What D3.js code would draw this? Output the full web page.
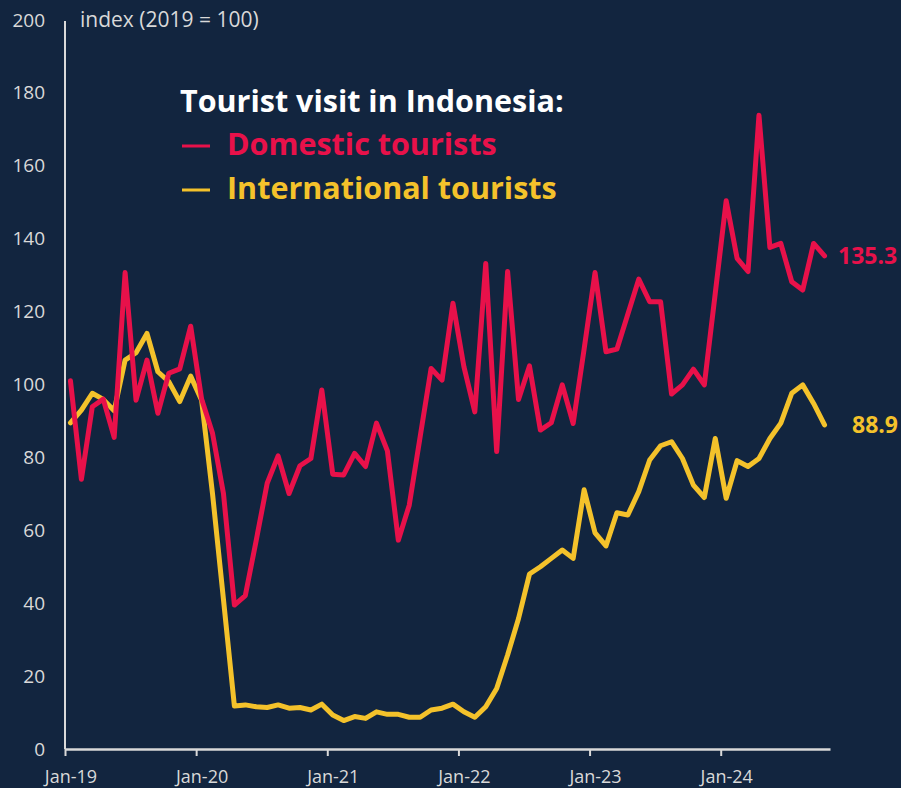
<!DOCTYPE html>
<html>
<head>
<meta charset="utf-8">
<script src="https://cdn.jsdelivr.net/npm/d3@7"></script>
<style>
  html, body { margin: 0; padding: 0; background: #12253f; }
  svg { display: block; }
  text { font-family: "Open Sans", Lato, sans-serif; }
</style>
</head>
<body>
<div id="chart"></div>
<script>
// Monthly index of tourist visits, Jan 2019 – Oct 2024 (2019 = 100)
const startMonth = new Date(2019, 0, 1);
const months = d3.timeMonth.range(startMonth, new Date(2024, 10, 1));

const domestic = [
  101.0, 74.0, 93.9, 96.0, 85.5, 130.7, 95.7, 106.7, 92.1, 103.1, 104.3, 116.0,
  96.0, 86.6, 70.1, 39.5, 42.1, 57.3, 72.9, 80.4, 70.1, 77.7, 79.7, 98.5,
  75.4, 75.2, 81.1, 77.5, 89.4, 81.8, 57.3, 66.9, 85.7, 104.4, 101.2, 122.3,
  104.9, 92.5, 133.2, 81.6, 131.0, 95.9, 105.1, 87.5, 89.5, 99.9, 89.3, 109.7,
  130.7, 109.0, 109.7, 119.3, 128.9, 122.7, 122.7, 97.4, 99.9, 104.2, 99.9, 125.0,
  150.4, 134.6, 131.0, 173.9, 137.6, 138.7, 128.2, 125.9, 138.7, 135.3
];

const international = [
  89.5, 93.0, 97.6, 95.9, 92.8, 106.7, 108.7, 114.0, 103.5, 100.8, 95.3, 102.3,
  95.7, 70.0, 41.0, 11.8, 12.1, 11.6, 11.4, 12.1, 11.2, 11.4, 10.7, 12.3,
  9.3, 7.8, 8.9, 8.4, 10.2, 9.5, 9.5, 8.7, 8.7, 10.7, 11.2, 12.3,
  10.2, 8.7, 11.6, 16.6, 25.8, 35.8, 48.0, 50.0, 52.3, 54.6, 52.3, 71.1,
  59.3, 55.7, 64.8, 64.2, 70.6, 79.3, 83.2, 84.3, 79.7, 72.4, 69.0, 85.2,
  68.8, 79.1, 77.5, 79.7, 85.2, 89.4, 97.6, 99.9, 94.8, 88.9
];

const yTicks = [0, 20, 40, 60, 80, 100, 120, 140, 160, 180, 200];
const xTickLabels = ["Jan-19", "Jan-20", "Jan-21", "Jan-22", "Jan-23", "Jan-24"];

const seriesInfo = [
  { name: "Domestic tourists", values: domestic, color: "#e8114a" },
  { name: "International tourists", values: international, color: "#f4c22b" }
];

const W = 901, H = 788;
const plotLeft = 65, plotRight = 830, plotTop = 20, plotBottom = 749;

const svg = d3.select("#chart").append("svg")
  .attr("width", W).attr("height", H);

svg.append("rect").attr("width", W).attr("height", H).attr("fill", "#12253f");

// Each month occupies one slot; points sit at the slot centre
const x = d3.scaleLinear().domain([0, months.length]).range([plotLeft, plotRight]);
const y = d3.scaleLinear().domain([0, 200]).range([plotBottom, plotTop]);
const halfSlot = (x(1) - x(0)) / 2;

const axisColor = "#d9d9d9";

// Y axis
const yAxis = svg.append("g")
  .attr("transform", `translate(${plotLeft},0)`)
  .call(d3.axisLeft(y).tickValues(yTicks).tickSize(0).tickPadding(20));
yAxis.select(".domain").attr("stroke", axisColor).attr("stroke-width", 2)
  .attr("d", `M0,${y(200) + 1}V${plotBottom}`);
yAxis.selectAll("text").attr("fill", axisColor).style("font-size", "19px");

// X axis: ticks at year boundaries, labels centred on the January slot
const xAxis = svg.append("g")
  .attr("transform", `translate(0,${plotBottom})`)
  .call(d3.axisBottom(x)
    .tickValues(xTickLabels.map((d, i) => i * 12))
    .tickFormat((d, i) => xTickLabels[i])
    .tickSizeInner(7).tickSizeOuter(0).tickPadding(14));
xAxis.select(".domain").attr("stroke", axisColor).attr("stroke-width", 2.5);
xAxis.selectAll(".tick line").attr("stroke", axisColor).attr("stroke-width", 2);
xAxis.selectAll("text").attr("fill", axisColor).style("font-size", "18px")
  .attr("x", halfSlot);

// Unit label
svg.append("text")
  .attr("x", 80).attr("y", 27)
  .attr("fill", axisColor).style("font-size", "21px")
  .text("index (2019 = 100)");

// Lines
const line = d3.line()
  .x((d, i) => x(i + 0.5))
  .y(d => y(d))
  .curve(d3.curveLinear);

seriesInfo.slice().reverse().forEach(s => {
  svg.append("path")
    .datum(s.values)
    .attr("fill", "none")
    .attr("stroke", s.color)
    .attr("stroke-width", 5)
    .attr("stroke-linejoin", "round")
    .attr("stroke-linecap", "round")
    .attr("d", line);
});

// End-of-series value labels
const last = months.length - 1;
svg.append("text")
  .attr("x", 838).attr("y", y(domestic[last]) + 8)
  .attr("fill", seriesInfo[0].color)
  .style("font-size", "23px").style("font-weight", "bold")
  .text(d3.format(".1f")(domestic[last]));
svg.append("text")
  .attr("x", 852).attr("y", y(international[last]) + 8)
  .attr("fill", seriesInfo[1].color)
  .style("font-size", "23px").style("font-weight", "bold")
  .text(d3.format(".1f")(international[last]));

// Legend block
const legend = svg.append("g").attr("transform", "translate(180,0)");
legend.append("text")
  .attr("x", 0).attr("y", 112)
  .attr("fill", "#ffffff")
  .style("font-size", "30.5px").style("font-weight", "bold")
  .text("Tourist visit in Indonesia:");
seriesInfo.forEach((s, i) => {
  const by = 155 + i * 44;
  legend.append("line")
    .attr("x1", 2).attr("x2", 30)
    .attr("y1", by - 9).attr("y2", by - 9)
    .attr("stroke", s.color).attr("stroke-width", 3);
  legend.append("text")
    .attr("x", 47).attr("y", by)
    .attr("fill", s.color)
    .style("font-size", "30.5px").style("font-weight", "bold")
    .text(s.name);
});
</script>
</body>
</html>
